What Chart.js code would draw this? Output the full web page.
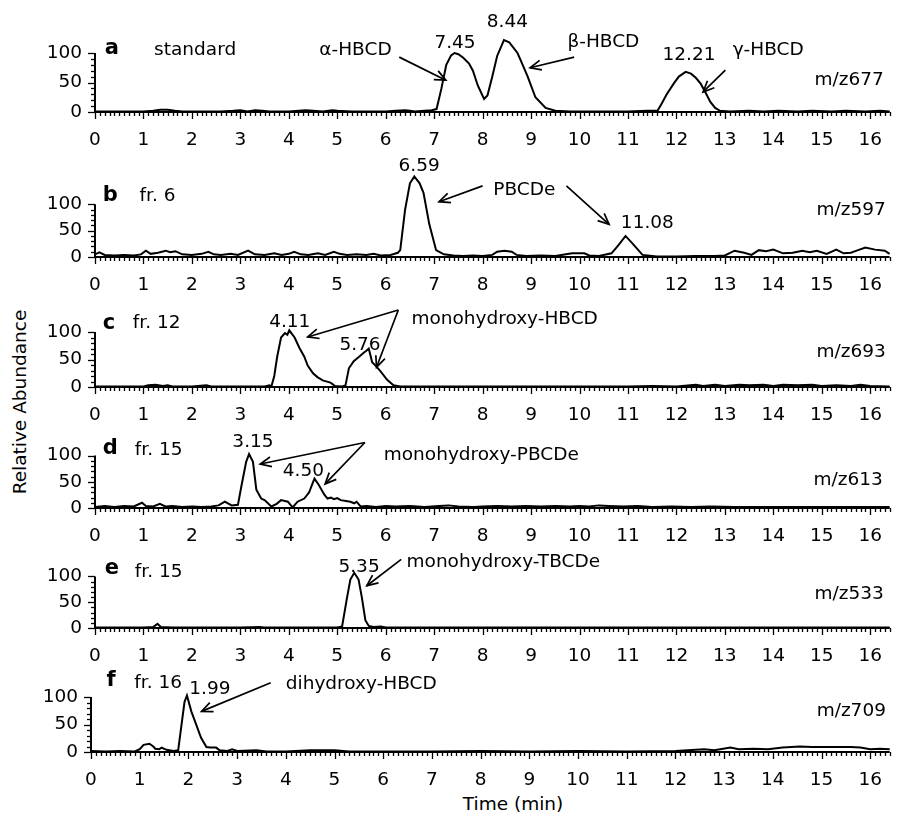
<!DOCTYPE html>
<html>
<head>
<meta charset="utf-8">
<script src="https://cdn.jsdelivr.net/npm/chart.js@4.4.1/dist/chart.umd.min.js"></script>
<style>
html,body{margin:0;padding:0;background:#fff;}
body{width:899px;height:820px;position:relative;overflow:hidden;font-family:"DejaVu Sans",sans-serif;color:#000;}
.panel{position:absolute;left:0;}
.ylab{position:absolute;left:19px;top:402px;transform:translate(-50%,-50%) rotate(-90deg);font-size:18.5px;white-space:nowrap;}
.xlab{position:absolute;left:513px;top:803px;transform:translate(-50%,-50%);font-size:18.5px;white-space:nowrap;}
</style>
</head>
<body>
<div class="ylab">Relative Abundance</div>
<div class="xlab">Time (min)</div>
<script>
// ---------- DATA ----------
const timeTicks = [0,1,2,3,4,5,6,7,8,9,10,11,12,13,14,15,16];
const abundanceTicks = [0,50,100];

const timeA = [0,0.3,0.6,1.0,1.2,1.35,1.5,1.65,1.8,2.2,2.6,2.85,3.0,3.15,3.3,3.45,3.6,4.0,4.2,4.35,4.5,4.7,4.9,5.0,5.3,5.6,6.0,6.2,6.4,6.5,6.6,6.8,6.95,7.05,7.15,7.2,7.25,7.35,7.42,7.5,7.6,7.72,7.8,7.9,8.03,8.1,8.2,8.3,8.44,8.55,8.72,8.8,8.93,9.09,9.3,9.5,9.8,10.2,10.6,11.0,11.4,11.61,11.7,11.8,11.95,12.05,12.19,12.3,12.4,12.5,12.6,12.7,12.8,12.9,13.1,13.5,13.8,14.1,14.5,14.8,15.2,15.5,15.9,16.2,16.4];
const abundA = [1,1,1,1,2,4,4,2,1,1,1,2,3,1,3,2,1,1,2,3,2,1,3,2,1,1,1,2,3,2,1,2,3,5,40,60,80,96,100,98,92,82,70,45,22,28,60,95,122,118,100,85,60,25,7,2,1,1,1,1,2,2,15,30,49,60,68,65,58,48,33,17,7,2,1,2,1,2,1,2,1,2,1,2,1];

const timeB = [0,0.09,0.2,0.4,0.6,0.8,0.95,1.05,1.15,1.3,1.46,1.55,1.66,1.8,2.0,2.2,2.34,2.45,2.6,2.8,2.95,3.16,3.3,3.5,3.7,3.85,4.0,4.11,4.25,4.4,4.6,4.75,4.93,5.05,5.2,5.4,5.6,5.75,5.9,6.1,6.25,6.3,6.4,6.5,6.59,6.7,6.78,6.9,7.04,7.2,7.4,7.6,7.8,8.0,8.2,8.3,8.45,8.6,8.7,8.9,9.2,9.5,9.85,10.1,10.2,10.4,10.66,10.8,10.95,11.1,11.3,11.6,12.0,12.4,12.8,13.0,13.2,13.4,13.55,13.7,13.85,14.0,14.2,14.4,14.6,14.75,14.9,15.1,15.3,15.45,15.6,15.75,15.9,16.1,16.3,16.4];
const abundB = [5,9,4,3,4,3,5,12,6,8,12,9,11,5,4,6,10,5,4,6,4,12,5,4,7,4,6,10,5,4,7,4,10,6,4,5,4,6,3,4,8,13,90,140,153,140,122,62,13,5,3,2,3,2,4,10,12,10,4,2,3,2,7,7,3,2,7,22,40,25,4,1,1,2,2,3,12,8,4,13,11,14,7,8,12,9,12,6,14,7,8,13,18,14,12,6];

const timeC = [0,0.5,1.0,1.1,1.25,1.4,1.5,1.6,2.0,2.3,2.4,3.0,3.5,3.6,3.64,3.7,3.76,3.84,3.92,3.97,4.01,4.06,4.12,4.22,4.32,4.39,4.5,4.59,4.7,4.86,4.95,5.1,5.17,5.24,5.34,5.45,5.54,5.6,5.65,5.72,5.8,5.89,6.03,6.16,6.3,7.0,8.0,9.0,10.0,11.0,11.5,12.0,12.4,12.55,12.8,13.0,13.3,13.5,13.8,14.0,14.2,14.5,14.8,15.0,15.3,15.6,15.8,16.0,16.4];
const abundC = [1,1,1,3,4,2,3,1,1,3,1,1,1,3,1,20,55,90,98,95,103,97,90,71,55,39,25,18,12,8,2,1,3,34,47,55,62,66,70,45,38,29,13,3,1,1,1,1,1,1,2,1,4,2,4,2,4,3,4,2,4,3,4,2,3,2,4,2,1];

const timeD = [0,0.2,0.4,0.6,0.8,0.97,1.05,1.2,1.34,1.45,1.6,1.8,2.0,2.2,2.4,2.55,2.68,2.82,2.95,3.02,3.12,3.18,3.26,3.33,3.43,3.5,3.64,3.75,3.84,3.98,4.08,4.18,4.32,4.42,4.49,4.53,4.62,4.73,4.8,4.87,4.93,5.0,5.07,5.15,5.27,5.35,5.4,5.48,5.6,5.8,6.0,6.2,6.5,6.8,7.1,7.3,7.5,7.8,8.0,8.3,8.6,8.9,9.2,9.5,9.8,10.0,10.2,10.4,10.6,10.9,11.2,11.5,11.9,12.3,12.7,13.2,13.7,14.2,14.7,15.2,15.7,16.4];
const abundD = [2,4,2,4,3,10,4,3,8,3,4,2,3,2,3,5,12,5,6,41,88,103,88,35,18,15,3,8,15,12,1,12,18,30,47,56,44,26,18,20,17,19,15,14,12,9,12,3,4,2,4,3,4,2,4,5,3,2,3,4,3,4,3,4,3,4,3,5,4,3,4,2,3,2,3,2,2,2,2,2,2,2];

const timeE = [0,0.5,1.0,1.2,1.29,1.36,1.6,2.0,3.0,3.4,3.5,4.0,4.5,5.0,5.1,5.2,5.27,5.35,5.44,5.51,5.58,5.65,5.75,5.9,6.0,7.0,8.0,9.0,10.0,11.0,12.0,13.0,14.0,15.0,16.0,16.4];
const abundE = [1,1,1,2,8,2,1,1,1,2,1,1,1,1,3,58,94,107,94,58,15,4,2,3,1,1,1,1,1,1,1,1,1,1,1,1];

const timeF = [0,0.3,0.6,0.9,1.0,1.08,1.2,1.28,1.32,1.4,1.45,1.55,1.7,1.79,1.85,1.92,1.97,2.06,2.16,2.26,2.37,2.45,2.57,2.64,2.8,2.9,3.0,3.4,3.6,4.0,4.5,4.7,5.0,5.3,6.0,7.0,8.0,9.0,10.0,11.0,12.0,12.59,12.8,13.13,13.3,13.6,13.9,14.2,14.56,14.8,15.2,15.6,15.8,16.0,16.2,16.4];
const abundF = [2,1,2,1,5,13,15,10,6,5,8,4,2,3,44,91,103,74,50,26,9,8,8,3,2,5,2,3,1,1,3,3,3,1,1,1,2,1,2,1,2,5,3,8,5,6,5,8,10,9,9,9,8,5,6,5];

// ---------- LAYOUT / ANNOTATIONS ----------
const FONT = '"DejaVu Sans", sans-serif';
const FS = 18.5;
const panels = [
  {t:timeA, v:abundA, top:0,   base:112, ppu:0.59, ymax:140, left:95, notes:[
    {text:'a', x:0.20, y:108, bold:true},
    {text:'standard', x:1.22, y:105},
    {text:'\u03b1-HBCD', x:4.63, y:105},
    {arrow:[6.28,93,7.24,54]},
    {text:'7.45', x:7.43, y:117, center:true},
    {text:'8.44', x:8.51, y:153, center:true},
    {text:'\u03b2-HBCD', x:9.75, y:119},
    {arrow:[9.89,93,8.98,75]},
    {text:'12.21', x:12.26, y:97, center:true},
    {text:'\u03b3-HBCD', x:13.16, y:105},
    {arrow:[13.01,71,12.55,34]},
    {text:'m/z677', x:14.85, y:54}
  ]},
  {t:timeB, v:abundB, top:146, base:257, ppu:0.55, ymax:165, left:95, notes:[
    {text:'b', x:0.16, y:116, bold:true},
    {text:'fr. 6', x:0.92, y:116},
    {text:'6.59', x:6.69, y:173, center:true},
    {arrow:[8.0,135,7.1,105]},
    {text:'PBCDe', x:8.22, y:127},
    {arrow:[9.73,135,10.61,62]},
    {text:'11.08', x:11.4, y:64, center:true},
    {text:'m/z597', x:14.89, y:89}
  ]},
  {t:timeC, v:abundC, top:291, base:387, ppu:0.55, ymax:120, left:95, notes:[
    {text:'c', x:0.16, y:116, bold:true},
    {text:'fr. 12', x:0.78, y:116},
    {text:'4.11', x:4.02, y:118, center:true},
    {text:'5.76', x:5.47, y:76, center:true},
    {text:'monohydroxy-HBCD', x:6.53, y:124},
    {arrow:[6.26,140,4.39,91]},
    {arrow:[6.26,140,5.81,36]},
    {text:'m/z693', x:14.89, y:64}
  ]},
  {t:timeD, v:abundD, top:421, base:508, ppu:0.57, ymax:120, left:95, notes:[
    {text:'d', x:0.16, y:114, bold:true},
    {text:'fr. 15', x:0.82, y:110},
    {text:'3.15', x:3.26, y:125, center:true},
    {text:'4.50', x:4.3, y:70, center:true},
    {text:'monohydroxy-PBCDe', x:5.96, y:100},
    {arrow:[5.57,125,3.41,84]},
    {arrow:[5.57,125,4.75,46]},
    {text:'m/z613', x:14.83, y:53}
  ]},
  {t:timeE, v:abundE, top:542, base:628, ppu:0.55, ymax:120, left:95, notes:[
    {text:'e', x:0.2, y:115, bold:true},
    {text:'fr. 15', x:0.82, y:109},
    {text:'5.35', x:5.45, y:118, center:true},
    {text:'monohydroxy-TBCDe', x:6.43, y:127},
    {arrow:[6.32,133,5.61,82]},
    {text:'m/z533', x:14.85, y:65}
  ]},
  {t:timeF, v:abundF, top:662, base:752, ppu:0.57, ymax:120, left:91, notes:[
    {text:'f', x:0.32, y:130, bold:true},
    {text:'fr. 16', x:0.89, y:126},
    {text:'1.99', x:2.44, y:114, center:true},
    {text:'dihydroxy-HBCD', x:4.0, y:123},
    {arrow:[3.69,126,2.27,74]},
    {text:'m/z709', x:14.9, y:74}
  ]}
];

const XAXIS_H = 34;

const axesPlugin = {
  id: 'chromAxes',
  afterDatasetsDraw(chart) {
    const ctx = chart.ctx, xs = chart.scales.x, ys = chart.scales.y;
    const y0 = ys.getPixelForValue(0), y100 = ys.getPixelForValue(100);
    const x0 = xs.getPixelForValue(0), xEnd = xs.right;
    ctx.save();
    ctx.strokeStyle = '#000';
    ctx.lineWidth = 2;
    ctx.beginPath(); ctx.moveTo(x0, y0); ctx.lineTo(xEnd, y0); ctx.stroke();
    ctx.beginPath(); ctx.moveTo(x0, y0 + 1); ctx.lineTo(x0, y100); ctx.stroke();
    ctx.lineWidth = 1.3;
    for (let i = 0; i <= 164; i++) {
      const px = Math.round(xs.getPixelForValue(i / 10)) + 0.5;
      const len = (i % 10 === 0) ? 7 : 4;
      ctx.beginPath(); ctx.moveTo(px, y0); ctx.lineTo(px, y0 + len); ctx.stroke();
    }
    for (let v = 0; v <= 100; v += 10) {
      const py = Math.round(ys.getPixelForValue(v)) + 0.5;
      const len = (v % 50 === 0) ? 7 : 4;
      ctx.beginPath(); ctx.moveTo(x0, py); ctx.lineTo(x0 - len, py); ctx.stroke();
    }
    // annotations
    const notes = chart.options.plugins.chromAxes.notes || [];
    ctx.fillStyle = '#000';
    ctx.textBaseline = 'middle';
    for (const n of notes) {
      if (n.arrow) {
        const [ax1, ay1, ax2, ay2] = n.arrow;
        const p1x = xs.getPixelForValue(ax1), p1y = ys.getPixelForValue(ay1);
        const p2x = xs.getPixelForValue(ax2), p2y = ys.getPixelForValue(ay2);
        const ang = Math.atan2(p2y - p1y, p2x - p1x);
        const hl = 12, ha = 0.42;
        ctx.lineWidth = 1.7;
        ctx.beginPath(); ctx.moveTo(p1x, p1y); ctx.lineTo(p2x, p2y); ctx.stroke();
        ctx.beginPath();
        ctx.moveTo(p2x - hl * Math.cos(ang - ha), p2y - hl * Math.sin(ang - ha));
        ctx.lineTo(p2x, p2y);
        ctx.lineTo(p2x - hl * Math.cos(ang + ha), p2y - hl * Math.sin(ang + ha));
        ctx.stroke();
      } else {
        ctx.font = (n.bold ? 'bold 21px ' : FS + 'px ') + FONT;
        ctx.textAlign = n.center ? 'center' : 'left';
        ctx.fillText(n.text, xs.getPixelForValue(n.x), ys.getPixelForValue(n.y));
      }
    }
    ctx.restore();
  }
};

panels.forEach((p) => {
  const plotH = p.ymax * p.ppu;
  const padTop = p.base - plotH - p.top;
  const H = Math.round(p.base + XAXIS_H - p.top);
  const div = document.createElement('div');
  div.className = 'panel';
  div.style.top = p.top + 'px';
  const cv = document.createElement('canvas');
  cv.width = 899; cv.height = H;
  cv.style.width = '899px'; cv.style.height = H + 'px';
  div.appendChild(cv);
  document.body.appendChild(div);
  const pts = p.t.map((x, i) => ({x: x, y: p.v[i]}));
  new Chart(cv.getContext('2d'), {
    type: 'line',
    data: { datasets: [{ data: pts, borderColor: '#000', borderWidth: 2, pointRadius: 0, tension: 0, fill: false, clip: false }] },
    options: {
      responsive: false, animation: false, devicePixelRatio: 1,
      layout: { padding: { top: padTop, right: 0, bottom: 0, left: 0 } },
      plugins: { legend: { display: false }, tooltip: { enabled: false }, chromAxes: { notes: p.notes } },
      scales: {
        x: {
          type: 'linear', min: 0, max: 16.4,
          afterBuildTicks: (s) => { s.ticks = timeTicks.map(v => ({value: v})); },
          afterFit: (s) => { s.height = XAXIS_H; },
          grid: { display: false, drawTicks: false }, border: { display: false },
          ticks: { color: '#000', font: { family: FONT, size: FS }, padding: 17, maxRotation: 0, autoSkip: false }
        },
        y: {
          type: 'linear', min: 0, max: p.ymax,
          afterBuildTicks: (s) => { s.ticks = abundanceTicks.map(v => ({value: v})); },
          afterFit: (s) => { s.width = p.left; },
          grid: { display: false, drawTicks: false }, border: { display: false },
          ticks: { color: '#000', font: { family: FONT, size: FS }, padding: 13 }
        }
      }
    },
    plugins: [axesPlugin]
  });
});
</script>
</body>
</html>
